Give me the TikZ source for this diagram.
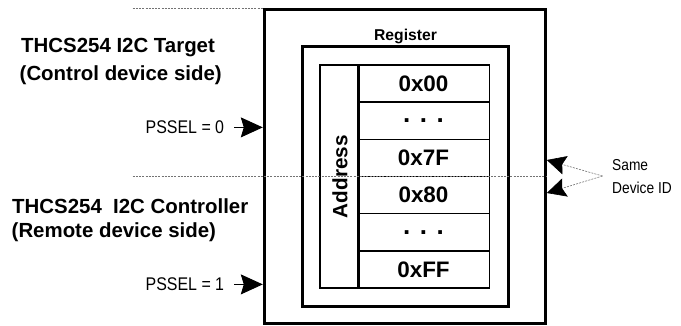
\documentclass[tikz,border=0pt]{standalone}
\usepackage{fontspec}
\setmainfont{Liberation Sans}
\usetikzlibrary{arrows.meta}
\newcommand{\tallsm}[1]{\scalebox{1}[1.15]{#1}}
\begin{document}
\begin{tikzpicture}[x=1bp,y=-1bp,
  frame/.style={draw=black, line width=3bp, inner sep=0pt},
  cell/.style={draw=black, line width=1.5bp, inner sep=0pt, minimum width=131.6bp, minimum height=37.17bp,
    font=\fontsize{22.5}{27}\selectfont\bfseries},
  dotcell/.style={cell, font=\fontsize{26}{30}\selectfont\bfseries},
  title/.style={anchor=base west, inner sep=0pt, font=\fontsize{20.5}{24}\selectfont\bfseries},
  small/.style={anchor=base west, inner sep=0pt, font=\fontsize{16}{19}\selectfont},
  note/.style={anchor=base west, inner sep=0pt, font=\fontsize{13.8}{16}\selectfont},
  guide/.style={draw=black!55, line width=0.6bp, dash pattern=on 2bp off 1.2bp},
  ptr/.style={draw=black, line width=1bp, -{Stealth[length=22bp,width=20bp,inset=3bp]}},
  sptr/.style={-{Stealth[length=19bp,width=19bp,inset=3bp,black]}}
]
\useasboundingbox (0,0) rectangle (681,325);

% boxes
\node[frame, minimum width=281bp, minimum height=314.3bp] (outer) at (404.8,166.15) {};
\node[frame, minimum width=205.6bp, minimum height=259.3bp] (reg) at (405.5,176.35) {};
\node[anchor=base, inner sep=0pt, font=\fontsize{15.75}{19}\selectfont\bfseries] (reglbl) at (405.5,40) {Register};

% address column
\node[draw=black, line width=2bp, inner sep=0pt, minimum width=37.7bp, minimum height=223bp] (addr) at (338.85,176.5) {};
\node[rotate=90, anchor=base, inner sep=0pt, font=\fontsize{20.8}{25}\selectfont\bfseries] (addrtxt) at (347.3,176.7) {Address};

% register cells
\node[cell] (r0) at (423.5,83.58) {0x00};
\node[dotcell] (r1) at (423.5,120.75) {. . .};
\node[cell] (r2) at (423.5,157.92) {0x7F};
\node[cell] (r3) at (423.5,195.08) {0x80};
\node[dotcell] (r4) at (423.5,232.25) {. . .};
\node[cell] (r5) at (423.5,269.42) {0xFF};
\draw[line width=2bp] (addr.north east) -- (addr.south east);

% titles
\node[title] (t1) at (21,52.3) {THCS254 I2C Target};
\node[title] (t2) at (19.5,80) {(Control device side)};
\node[title] (t3) at (12,213.3) {THCS254\ \ I2C Controller};
\node[title] (t4) at (11.5,237.3) {(Remote device side)};

% PSSEL inputs
\node[small] (p0) at (145.5,133.7) {\tallsm{PSSEL = 0}};
\node[small] (p1) at (145.5,290.7) {\tallsm{PSSEL = 1}};
\draw[ptr] ([xshift=10bp]p0.east) -- (p0.east -| outer.west);
\draw[ptr] ([xshift=10bp]p1.east) -- (p1.east -| outer.west);

% guide lines
\coordinate (g1) at (132.7,8.3);
\coordinate (g2) at (132.7,176.5);
\draw[guide] (g1) -- (outer.west |- g1);
\draw[guide] (g2) -- (outer.east |- g2);

% same device id
\node[note] (same) at (612,170.7) {\tallsm{Same}};
\node[note] (devid) at (612,193.3) {\tallsm{Device ID}};
\coordinate (sd) at (602.5,176);
\coordinate (h1) at (0,160);
\coordinate (h2) at (0,193);
\draw[guide, sptr] (sd) -- (outer.east |- h1);
\draw[guide, sptr] (sd) -- (outer.east |- h2);
\end{tikzpicture}
\end{document}
